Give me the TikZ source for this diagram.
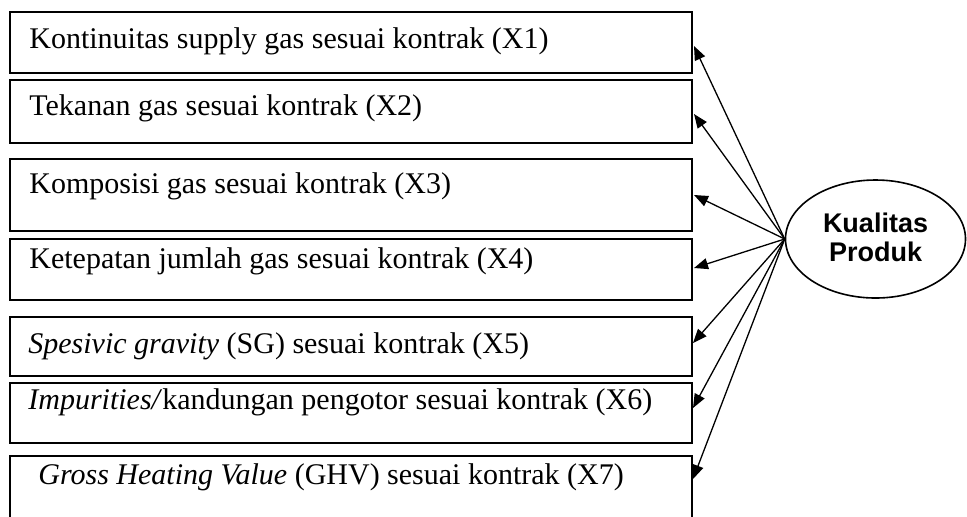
\documentclass[tikz,border=0pt]{standalone}
\usepackage{fontspec}
\setmainfont{Liberation Serif}
\newfontfamily\arialfont{Liberation Sans}
\usepackage{tikz}
\usetikzlibrary{arrows.meta,shapes.geometric,calc}

\begin{document}
\begin{tikzpicture}[x=0.5pt,y=-0.5pt]
	\tikzstyle{kotak}=[draw, line width=1pt, rectangle, anchor=north west, inner sep=0, minimum width=341pt]
	\tikzstyle{teks}=[anchor=base west, inner sep=0, font=\fontsize{15}{18}\selectfont]
	\tikzstyle{panah}=[line width=0.65pt, -{Triangle[length=7pt,width=5.5pt]}]
	\clip (0,0) rectangle (967,516);
	\node[kotak, minimum height=30.5pt] (k1) at (9,11){};
	\node[kotak, minimum height=31.5pt] (k2) at (9,79){};
	\node[kotak, minimum height=36pt] (k3) at (9,158){};
	\node[kotak, minimum height=30.5pt] (k4) at (9,238){};
	\node[kotak, minimum height=29.5pt] (k5) at (9,316){};
	\node[kotak, minimum height=30pt] (k6) at (9,382){};
	\node[kotak, minimum height=40pt] (k7) at (9,455){};
	\node[teks] (t1) at (29,48){Kontinuitas supply gas sesuai kontrak (X1)};
	\node[teks] (t2) at (29,115){Tekanan gas sesuai kontrak (X2)};
	\node[teks] (t3) at (29,193){Komposisi gas sesuai kontrak (X3)};
	\node[teks] (t4) at (29,268){Ketepatan jumlah gas sesuai kontrak (X4)};
	\node[teks] (t5) at (28,353){\textit{Spesivic gravity} (SG) sesuai kontrak (X5)};
	\node[teks] (t6) at (28,409){\textit{Impurities/}kandungan pengotor sesuai kontrak (X6)};
	\node[teks] (t7) at (38,484){\textit{Gross Heating Value} (GHV) sesuai kontrak (X7)};
	\node[draw, ellipse, line width=0.8pt, minimum width=90pt, minimum height=59pt, inner sep=0, align=center,
		font=\arialfont\bfseries\fontsize{13.5}{14.5}\selectfont] (kp) at (875.5,239){Kualitas\\Produk\rule{0pt}{0pt}\vspace{2pt}};
%	\draw[panah] (kp) -- (k1);
\draw[panah] (kp.west) -- ($(k1.north east)+(1,35)$);
\draw[panah] (kp.west) -- ($(k2.north east)+(1,35)$);
\draw[panah] (kp.west) -- ($(k3.north east)+(1,37)$);
\draw[panah] (kp.west) -- ($(k4.north east)+(1,30)$);
\draw[panah] (kp.west) -- ($(k5.north east)+(0,27)$);
\draw[panah] (kp.west) -- ($(k6.north east)+(0,26)$);
\draw[panah] (kp.west) -- ($(k7.north east)+(0,24)$);
\end{tikzpicture}
\end{document}
